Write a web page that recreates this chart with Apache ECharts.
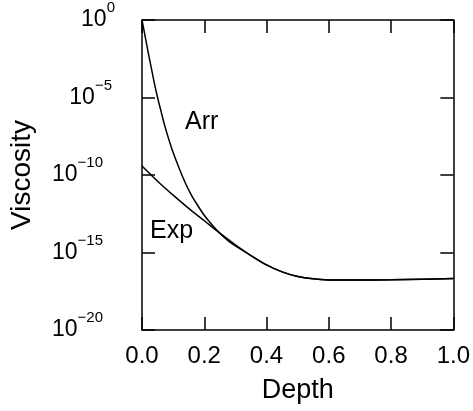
<!DOCTYPE html>
<html>
<head>
<meta charset="utf-8">
<script src="https://cdn.jsdelivr.net/npm/echarts@6/dist/echarts.min.js"></script>
<style>
html,body{margin:0;padding:0;background:#fff;}
#chart{width:473px;height:411px;}
</style>
</head>
<body>
<div id="chart"></div>
<script>
// Depth values and log10(viscosity) exponents
var arrDepth = [0, 0.01, 0.02, 0.03, 0.04, 0.05, 0.06, 0.07, 0.08, 0.09, 0.10, 0.12, 0.14, 0.16, 0.18, 0.20, 0.22, 0.24, 0.26, 0.28, 0.30, 0.35, 0.40, 0.45, 0.50, 0.55, 0.60, 0.65, 0.70, 0.80, 0.90, 1.00];
var arrExp   = [0, -1.05, -2.1, -3.1, -4.1, -5.0, -5.8, -6.6, -7.3, -7.95, -8.55, -9.6, -10.55, -11.35, -12.0, -12.6, -13.1, -13.55, -13.95, -14.3, -14.58, -15.2, -15.8, -16.25, -16.55, -16.7, -16.77, -16.78, -16.78, -16.76, -16.72, -16.68];
var expDepth = [0, 0.05, 0.10, 0.15, 0.20, 0.25, 0.30, 0.35, 0.40, 0.45, 0.50, 0.55, 0.60, 0.65, 0.70, 0.80, 0.90, 1.00];
var expExp   = [-9.42, -10.4, -11.3, -12.15, -12.95, -13.75, -14.5, -15.2, -15.8, -16.25, -16.55, -16.7, -16.77, -16.78, -16.78, -16.76, -16.72, -16.68];
var xTicks = [0, 0.2, 0.4, 0.6, 0.8, 1.0];
var yTickExps = [0, -5, -10, -15, -20];
var curveLabels = ['Arr', 'Exp'];

function toPairs(xs, es) {
  return xs.map(function (x, i) { return [x, Math.pow(10, es[i])]; });
}

var chart = echarts.init(document.getElementById('chart'), null, {renderer: 'canvas'});
var font = '"Liberation Sans", Arial, Helvetica, sans-serif';
var axisLineStyle = {color: '#000', width: 1.5};

function supStyle(padRight) {
  return {fontFamily: font, fontSize: 15, color: '#000', lineHeight: 15, padding: [0, padRight, 24, 0]};
}

var option = {
  backgroundColor: '#fff',
  animation: false,
  grid: {left: 142, right: 17, top: 20, bottom: 81, containLabel: false},
  xAxis: [
    {
      type: 'value', min: xTicks[0], max: xTicks[xTicks.length - 1], interval: 0.2, position: 'bottom',
      name: 'Depth', nameLocation: 'middle', nameGap: 47,
      nameTextStyle: {fontFamily: font, fontSize: 27, color: '#000'},
      axisLine: {show: true, onZero: false, lineStyle: axisLineStyle},
      axisTick: {show: true, inside: true, length: 13, lineStyle: axisLineStyle},
      axisLabel: {fontFamily: font, fontSize: 24, color: '#000', margin: 14,
        formatter: function (v) { return v.toFixed(1); }},
      splitLine: {show: false}
    },
    {
      type: 'value', min: xTicks[0], max: xTicks[xTicks.length - 1], interval: 0.2, position: 'top',
      axisLine: {show: true, onZero: false, lineStyle: axisLineStyle},
      axisTick: {show: true, inside: true, length: 13, lineStyle: axisLineStyle},
      axisLabel: {show: false},
      splitLine: {show: false}
    }
  ],
  yAxis: [
    {
      type: 'log', logBase: 10, min: Math.pow(10, yTickExps[4]), max: Math.pow(10, yTickExps[0]), interval: 5, position: 'left',
      name: 'Viscosity', nameLocation: 'middle', nameGap: 106, nameRotate: 90,
      nameTextStyle: {fontFamily: font, fontSize: 28, color: '#000'},
      axisLine: {show: true, onZero: false, lineStyle: axisLineStyle},
      axisTick: {show: true, inside: true, length: 13, lineStyle: axisLineStyle},
      minorTick: {show: false},
      axisLabel: {
        margin: 27, color: '#000', fontFamily: font, fontSize: 23,
        formatter: function (v) {
          var e = Math.round(Math.log10(v));
          if (e === 0) return '10{s0|0}';
          if (e > -10) return '10{s1|\u2212' + (-e) + '}';
          return '10{s2|\u2212' + (-e) + '}';
        },
        rich: {s0: supStyle(0), s1: supStyle(3), s2: supStyle(12)}
      },
      splitLine: {show: false}
    },
    {
      type: 'log', logBase: 10, min: Math.pow(10, yTickExps[4]), max: Math.pow(10, yTickExps[0]), interval: 5, position: 'right',
      axisLine: {show: true, onZero: false, lineStyle: axisLineStyle},
      axisTick: {show: true, inside: true, length: 13, lineStyle: axisLineStyle},
      minorTick: {show: false},
      axisLabel: {show: false},
      splitLine: {show: false}
    }
  ],
  series: [
    {
      name: curveLabels[0], type: 'line', xAxisIndex: 0, yAxisIndex: 0,
      data: toPairs(arrDepth, arrExp), showSymbol: false, smooth: 0.3,
      lineStyle: {color: '#000', width: 1.5}
    },
    {
      name: curveLabels[1], type: 'line', xAxisIndex: 0, yAxisIndex: 0,
      data: toPairs(expDepth, expExp), showSymbol: false, smooth: 0.3,
      lineStyle: {color: '#000', width: 1.5}
    }
  ],
  graphic: [
    {type: 'text', left: 185, top: 110, style: {text: curveLabels[0], font: '25px ' + font, fill: '#000'}},
    {type: 'text', left: 150, top: 219, style: {text: curveLabels[1], font: '25px ' + font, fill: '#000'}}
  ]
};
chart.setOption(option);
</script>
</body>
</html>
